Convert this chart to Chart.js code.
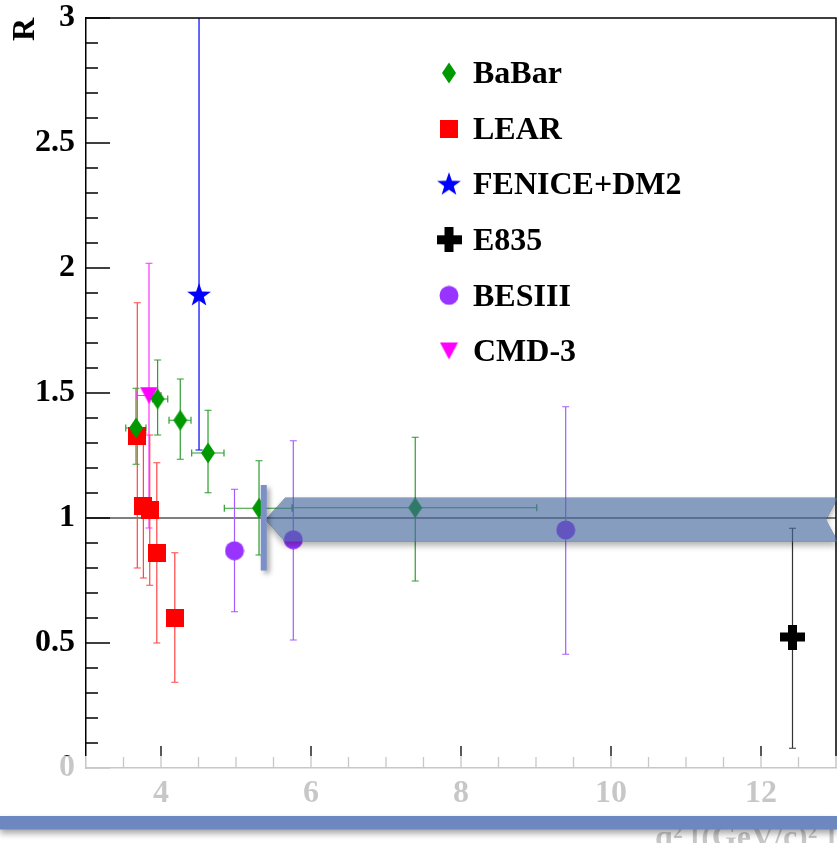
<!DOCTYPE html>
<html><head><meta charset="utf-8">
<script src="https://cdn.jsdelivr.net/npm/chart.js@4.4.0/dist/chart.umd.min.js"></script>
<style>html,body{margin:0;padding:0;background:#fff;}canvas{display:block;}</style>
</head><body>
<canvas id="c" width="837" height="843"></canvas>
<script>
// ---- data ----
const babarX    = [3.667, 3.955, 4.257, 4.627, 5.307, 7.39];
const babarY    = [1.36, 1.476, 1.391, 1.26, 1.039, 1.041];
const babarYLo  = [1.215, 1.332, 1.235, 1.101, 0.852, 0.748];
const babarYHi  = [1.519, 1.632, 1.556, 1.431, 1.229, 1.323];
const babarXLo  = [3.53, 3.89, 4.107, 4.409, 4.844, 5.75];
const babarXHi  = [3.80, 4.09, 4.40, 4.84, 5.75, 9.01];

const learX   = [3.684, 3.765, 3.85, 3.944, 4.184];
const learY   = [1.329, 1.05, 1.031, 0.861, 0.602];
const learYLo = [0.80, 0.76, 0.731, 0.50, 0.343];
const learYHi = [1.861, 1.34, 1.332, 1.221, 0.861];

const feniceX   = [4.507];
const feniceY   = [1.892];
const feniceYLo = [1.272];
const feniceYHi = [3.4];

const e835X   = [12.42];
const e835Y   = [0.524];
const e835YLo = [0.079];
const e835YHi = [0.959];

const besX   = [4.98, 5.764, 9.396];
const besY   = [0.869, 0.913, 0.952];
const besYLo = [0.625, 0.512, 0.455];
const besYHi = [1.115, 1.309, 1.445];

const cmdX   = [3.84];
const cmdY   = [1.49];
const cmdYLo = [0.96];
const cmdYHi = [2.019];
const cmdXLo = [3.68];
const cmdXHi = [4.0];

const xTickValues = [4, 6, 8, 10, 12];
const xTickLabels = ['4', '6', '8', '10', '12'];
const yTickValues = [0, 0.5, 1, 1.5, 2, 2.5, 3];
const yTickLabels = ['0', '0.5', '1', '1.5', '2', '2.5', '3'];
const seriesNames = ['BaBar', 'LEAR', 'FENICE+DM2', 'E835', 'BESIII', 'CMD-3'];

// ---- markers ----
function mk(w, h, color, draw) {
  const c = document.createElement('canvas');
  c.width = w; c.height = h;
  const g = c.getContext('2d');
  g.fillStyle = color;
  draw(g, w, h);
  return c;
}
const FONT = 'Liberation Serif';
const mDiamond = mk(16, 22, '#009900', g => { g.beginPath(); g.moveTo(8, 0.5); g.lineTo(15, 11); g.lineTo(8, 21.5); g.lineTo(1, 11); g.closePath(); g.fill(); });
const mSquare = mk(18, 18, '#ff0000', g => { g.fillRect(0, 0, 18, 18); });
const mStar = mk(26, 26, '#0000ff', g => {
  g.beginPath();
  for (let i = 0; i < 10; i++) {
    const a = -Math.PI / 2 + i * Math.PI / 5, r = i % 2 ? 5 : 12.5;
    const px = 13 + r * Math.cos(a), py = 13.5 + r * Math.sin(a);
    i ? g.lineTo(px, py) : g.moveTo(px, py);
  }
  g.closePath(); g.fill();
});
const mCross = mk(25, 25, '#000000', g => { g.fillRect(8, 0, 9, 25); g.fillRect(0, 8, 25, 9); });
const mCircle = mk(20, 20, '#9933ff', g => { g.beginPath(); g.arc(10, 10, 9.5, 0, Math.PI * 2); g.fill(); });
const mTri = mk(19, 18, '#ff00ff', g => { g.beginPath(); g.moveTo(0.5, 0.5); g.lineTo(18.5, 0.5); g.lineTo(9.5, 17.5); g.closePath(); g.fill(); });

function pts(xs, ys) { return xs.map((x, i) => ({ x: x, y: ys[i] })); }
function ds(label, xs, ys, marker, errColor, err) {
  return { label, data: pts(xs, ys), pointStyle: marker, pointRadius: 8, showLine: false, errColor, err };
}

const datasets = [
  ds(seriesNames[0], babarX, babarY, mDiamond, '#2e9e2e', { yLo: babarYLo, yHi: babarYHi, xLo: babarXLo, xHi: babarXHi }),
  ds(seriesNames[1], learX, learY, mSquare, '#ff4545', { yLo: learYLo, yHi: learYHi }),
  ds(seriesNames[2], feniceX, feniceY, mStar, '#0000ff', { yLo: feniceYLo, yHi: feniceYHi }),
  ds(seriesNames[3], e835X, e835Y, mCross, '#333333', { yLo: e835YLo, yHi: e835YHi }),
  ds(seriesNames[4], besX, besY, mCircle, '#a45cff', { yLo: besYLo, yHi: besYHi }),
  ds(seriesNames[5], cmdX, cmdY, mTri, '#ff33ff', { yLo: cmdYLo, yHi: cmdYHi, xLo: cmdXLo, xHi: cmdXHi })
];

const errPlugin = {
  id: 'err',
  beforeDatasetsDraw(chart) {
    const { ctx, chartArea: a, scales: { x, y } } = chart;
    ctx.save();
    ctx.beginPath(); ctx.rect(a.left, a.top, a.right - a.left, a.bottom - a.top); ctx.clip();
    // reference line R = 1
    ctx.strokeStyle = '#555'; ctx.lineWidth = 1.5;
    ctx.beginPath(); ctx.moveTo(a.left, y.getPixelForValue(1)); ctx.lineTo(a.right, y.getPixelForValue(1)); ctx.stroke();
    ctx.lineWidth = 1.2;
    chart.data.datasets.forEach(d => {
      const e = d.err; ctx.strokeStyle = d.errColor;
      d.data.forEach((p, i) => {
        const px = x.getPixelForValue(p.x), py = y.getPixelForValue(p.y);
        if (e.yLo) {
          const y1 = y.getPixelForValue(e.yLo[i]), y2 = y.getPixelForValue(e.yHi[i]);
          ctx.beginPath(); ctx.moveTo(px, y1); ctx.lineTo(px, y2);
          ctx.moveTo(px - 3.5, y1); ctx.lineTo(px + 3.5, y1);
          ctx.moveTo(px - 3.5, y2); ctx.lineTo(px + 3.5, y2); ctx.stroke();
        }
        if (e.xLo) {
          const x1 = x.getPixelForValue(e.xLo[i]), x2 = x.getPixelForValue(e.xHi[i]);
          ctx.beginPath(); ctx.moveTo(x1, py); ctx.lineTo(x2, py);
          ctx.moveTo(x1, py - 3.5); ctx.lineTo(x1, py + 3.5);
          ctx.moveTo(x2, py - 3.5); ctx.lineTo(x2, py + 3.5); ctx.stroke();
        }
      });
    });
    ctx.restore();
  }
};

function arrowPath(ctx, tipX, cy, h, rightX) {
  ctx.moveTo(tipX, cy); ctx.lineTo(tipX + 20, cy - h); ctx.lineTo(rightX + 2, cy - h);
  ctx.lineTo(rightX - 10, cy); ctx.lineTo(rightX + 2, cy + h); ctx.lineTo(tipX + 20, cy + h); ctx.closePath();
}

const decoPlugin = {
  id: 'deco',
  afterDatasetsDraw(chart) {
    const { ctx } = chart;
    // legend
    ctx.save();
    ctx.font = 'bold 32px "' + FONT + '"';
    ctx.textBaseline = 'middle'; ctx.textAlign = 'left'; ctx.fillStyle = '#000';
    chart.data.datasets.forEach((d, i) => {
      const cy = 75 + i * 55.6;
      const m = d.pointStyle;
      ctx.drawImage(m, 449 - m.width / 2, cy - 2 - m.height / 2);
      ctx.fillText(d.label, 473, cy);
    });
    ctx.restore();
  },
  afterDraw(chart) {
    const { ctx, chartArea: a, scales: { x, y } } = chart;
    const W = chart.width, H = chart.height;
    ctx.save();
    // frame
    ctx.strokeStyle = '#000'; ctx.lineWidth = 1.5;
    ctx.beginPath(); ctx.moveTo(a.left, a.top); ctx.lineTo(a.right, a.top); ctx.lineTo(a.right, a.bottom); ctx.stroke();
    // inward ticks
    ctx.lineWidth = 1.3;
    ctx.beginPath();
    for (let k = 0; k <= 30; k++) {
      const v = k / 10, py = y.getPixelForValue(v);
      const len = (k % 5 === 0) ? 24 : 12;
      ctx.moveTo(a.left, py); ctx.lineTo(a.left + len, py);
    }
    for (let k = 7; k <= 25; k++) {
      const v = k / 2, px = x.getPixelForValue(v);
      const len = (k % 4 === 0) ? 22 : 11;
      ctx.moveTo(px, a.bottom); ctx.lineTo(px, a.bottom - len);
    }
    ctx.stroke();

    // translucent arrow pointing to R = 1 (shadow drawn only outside the shape)
    const cy = y.getPixelForValue(0.993), tipX = x.getPixelForValue(5.39), h = 22;
    ctx.save();
    ctx.beginPath(); ctx.rect(0, 0, W, H); arrowPath(ctx, tipX, cy, h, a.right);
    ctx.clip('evenodd');
    ctx.shadowColor = 'rgba(0,0,0,0.3)'; ctx.shadowBlur = 6; ctx.shadowOffsetY = 4;
    ctx.fillStyle = '#000';
    ctx.beginPath(); arrowPath(ctx, tipX, cy, h, a.right); ctx.fill();
    ctx.restore();
    ctx.fillStyle = 'rgba(70,105,158,0.65)';
    ctx.beginPath(); arrowPath(ctx, tipX, cy, h, a.right); ctx.fill();

    // vertical bar
    ctx.save();
    ctx.shadowColor = 'rgba(0,0,0,0.35)'; ctx.shadowBlur = 5; ctx.shadowOffsetX = 3; ctx.shadowOffsetY = 3;
    ctx.fillStyle = '#7a90c6';
    const bx = x.getPixelForValue(5.37), by1 = y.getPixelForValue(1.132), by2 = y.getPixelForValue(0.79);
    ctx.fillRect(bx - 3, by1, 6, by2 - by1);
    ctx.restore();

    // whitish veil on the bottom strip
    ctx.fillStyle = 'rgba(255,255,255,0.78)';
    ctx.fillRect(0, 756, W, H - 756);
    // bottom bar
    ctx.save();
    ctx.shadowColor = 'rgba(0,0,0,0.35)'; ctx.shadowBlur = 6; ctx.shadowOffsetY = 4;
    ctx.fillStyle = '#6d87c0';
    ctx.fillRect(0, 816, W, 13.5);
    ctx.restore();
    ctx.restore();
  }
};

const tickFont = { family: FONT, weight: 'bold', size: 32, lineHeight: 1 };
function noPad(s) { s.paddingTop = 0; s.paddingBottom = 0; s.paddingLeft = 0; s.paddingRight = 0; }

new Chart(document.getElementById('c'), {
  type: 'scatter',
  data: { datasets },
  options: {
    responsive: false, animation: false, devicePixelRatio: 1,
    layout: { autoPadding: false, padding: { top: 18, right: 1, left: 0, bottom: 0 } },
    plugins: { legend: { display: false }, tooltip: { enabled: false } },
    scales: {
      x: {
        type: 'linear', min: 3, max: 13,
        afterBuildTicks: s => { s.ticks = xTickValues.map(v => ({ value: v })); },
        afterFit: s => { s.height = 75; noPad(s); },
        grid: { display: true, drawOnChartArea: false, drawTicks: false },
        border: { display: true, color: '#000', width: 1.5 },
        ticks: { padding: 10, font: tickFont, color: '#000', maxRotation: 0, autoSkip: false,
          callback: v => xTickLabels[xTickValues.indexOf(v)] },
        title: { display: true, text: 'q² [(GeV/c)² ]', align: 'end', color: '#000', font: tickFont, padding: { top: 0, bottom: -12 } }
      },
      y: {
        type: 'linear', min: 0, max: 3,
        afterBuildTicks: s => { s.ticks = yTickValues.map(v => ({ value: v })); },
        afterFit: s => { s.width = 86; noPad(s); },
        grid: { display: true, drawOnChartArea: false, drawTicks: false },
        border: { display: true, color: '#000', width: 1.5 },
        ticks: { padding: 11, font: tickFont, color: '#000', autoSkip: false,
          callback: v => yTickLabels[yTickValues.indexOf(v)] },
        title: { display: true, text: 'R', align: 'end', color: '#000', font: tickFont, padding: { top: 10, bottom: 0 } }
      }
    }
  },
  plugins: [errPlugin, decoPlugin]
});
</script>
</body></html>
